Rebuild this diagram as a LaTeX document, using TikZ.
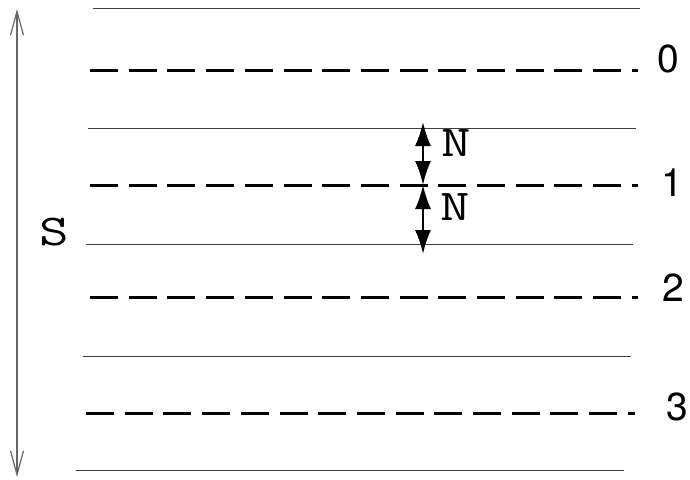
\documentclass[tikz,border=0pt]{standalone}
\usepackage{fontspec}
\newfontfamily\levelfont{TeX Gyre Heros}
\usetikzlibrary{arrows.meta}

\newcommand{\wideletter}[1]{\scalebox{1.3}[1]{#1}}

\tikzset{
	layer/.style={line width=1pt, black!75},
	level/.style={line width=3pt, dash pattern=on 28pt off 10.7pt},
	levellabel/.style={font=\levelfont\fontsize{39}{39}\selectfont, inner sep=0pt},
	ttlabel/.style={font=\ttfamily\fontsize{44}{44}\selectfont, inner sep=0pt},
	gaphead/.tip={Latex[length=24pt,width=16pt]},
	gap/.style={line width=2pt, gaphead-gaphead},
	span/.style={line width=1.2pt, black!60, {Straight Barb[length=24pt,width=13pt]}-{Straight Barb[length=24pt,width=13pt]}}
}

\begin{document}
\begin{tikzpicture}[x=1pt, y=-1pt]
		\useasboundingbox (0,0) rectangle (690,479);

		% boundaries
		\foreach \y/\xa/\xb in {8/93/640, 128/88/636, 244/86/633, 356/83/631, 470/76/624}
			\draw[layer] (\xa,\y) -- (\xb,\y);

		% numbered levels
		\foreach \y/\xa/\xb/\lx/\ly/\lab in {70/90/638/668/59/0, 185/90/638/672/183/1, 297/90/638/673/288/2, 413/86/635/677/407/3} {
			\draw[level] (\xa,\y) -- (\xb,\y);
			\node[levellabel] (lvl\lab) at (\lx,\ly) {\lab};
		}

		% total height
		\coordinate (stop) at (17,9);
		\coordinate (sbot) at (17,477);
		\draw[span] (stop) -- (sbot);
		\node[ttlabel] (s) at (54,232) {\wideletter{S}};

		% spacing
		\coordinate (na) at (423,122);
		\coordinate (nb) at (423,185);
		\coordinate (nc) at (423,254);
		\draw[gap] (na) -- (nb);
		\draw[gap] (nb) -- (nc);
		\node[ttlabel] (nup) at (456,143) {\wideletter{N}};
		\node[ttlabel] (ndown) at (455,207) {\wideletter{N}};
	\end{tikzpicture}
\end{document}
